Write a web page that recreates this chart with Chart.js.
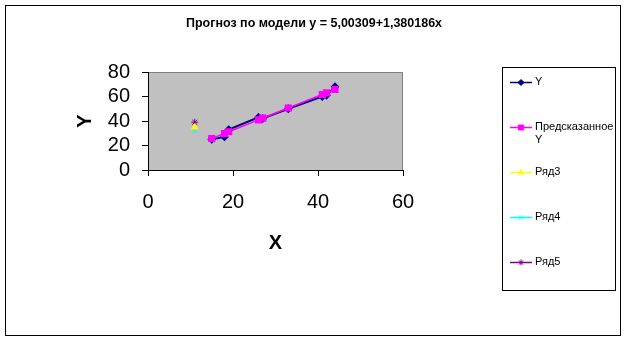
<!DOCTYPE html>
<html>
<head>
<meta charset="utf-8">
<script src="https://cdn.jsdelivr.net/npm/chart.js@4/dist/chart.umd.min.js"></script>
<style>
    html, body { margin: 0; padding: 0; background: #ffffff; }
    #wrap { width: 624px; height: 341px; }
</style>
</head>
<body>
<div id="wrap"><canvas id="forecastChart" width="624" height="341"></canvas></div>
<script>
// data
const xValues = [15, 18, 19, 26, 27, 33, 41, 42, 44];
const yActual = [25, 27, 33, 43, 42, 50, 60, 61, 68];
const yPredicted = [25.7, 29.8, 31.2, 40.9, 42.3, 50.6, 61.6, 63.0, 65.7];
const extraX = 11;
const row3 = [35];
const row4 = [32];
const row5 = [39];
const xTicks = [0, 20, 40, 60];
const yTicks = [0, 20, 40, 60, 80];
const chartTitle = 'Прогноз по модели y = 5,00309+1,380186x';

const FONT = 'Arial, "Liberation Sans", sans-serif';

function toPoints(xs, ys) {
    return ys.map(function (v, i) { return { x: xs[i], y: v }; });
}

// legend entries (label lines, colour, marker)
const legendItems = [
    { lines: ['Y'], color: '#000080', marker: 'rectRot', y: 82 },
    { lines: ['Предсказанное', 'Y'], color: '#FF00FF', marker: 'rect', y: 127 },
    { lines: ['Ряд3'], color: '#FFFF00', marker: 'triangle', y: 172 },
    { lines: ['Ряд4'], color: '#00FFFF', marker: 'crossRot', y: 217 },
    { lines: ['Ряд5'], color: '#800080', marker: 'star', y: 262 }
];

const excelLook = {
    id: 'excelLook',
    beforeDraw: function (chart) {
        const ctx = chart.ctx;
        const a = chart.chartArea;
        ctx.save();
        ctx.fillStyle = '#ffffff';
        ctx.fillRect(0, 0, chart.width, chart.height);
        ctx.fillStyle = '#C0C0C0';
        ctx.fillRect(a.left, a.top, a.right - a.left, a.bottom - a.top);
        ctx.strokeStyle = '#808080';
        ctx.lineWidth = 1;
        ctx.strokeRect(a.left + 0.5, a.top + 0.5, a.right - a.left - 1, a.bottom - a.top);
        ctx.restore();
    },
    afterDraw: function (chart) {
        const ctx = chart.ctx;
        ctx.save();
        // outer frame
        ctx.strokeStyle = '#000000';
        ctx.lineWidth = 1;
        ctx.strokeRect(5.5, 5.5, 615, 330);

        // title
        ctx.fillStyle = '#000000';
        ctx.font = 'bold 12.5px ' + FONT;
        ctx.textAlign = 'center';
        ctx.textBaseline = 'middle';
        ctx.fillText(chartTitle, 314, 24);

        // legend box
        ctx.strokeRect(502.5, 67.5, 113, 223);
        ctx.font = '11px ' + FONT;
        ctx.textAlign = 'left';
        legendItems.forEach(function (item) {
            ctx.strokeStyle = item.color;
            ctx.lineWidth = 1.5;
            ctx.beginPath();
            ctx.moveTo(510, item.y + 0.5);
            ctx.lineTo(532, item.y + 0.5);
            ctx.stroke();
            ctx.lineWidth = 1;
            ctx.fillStyle = item.color;
            Chart.helpers.drawPoint(ctx, {
                pointStyle: item.marker,
                radius: item.marker === 'rect' ? 3.5 : 3,
                rotation: 0,
                borderWidth: 1
            }, 521, item.y + 0.5);
            ctx.fillStyle = '#000000';
            item.lines.forEach(function (line, i) {
                ctx.fillText(line, 535, item.y + i * 13);
            });
        });
        ctx.restore();
    }
};

new Chart(document.getElementById('forecastChart'), {
    type: 'scatter',
    data: {
        datasets: [
            {
                label: 'Y',
                data: toPoints(xValues, yActual),
                showLine: true,
                borderColor: '#000080',
                backgroundColor: '#000080',
                borderWidth: 2,
                pointStyle: 'rectRot',
                pointRadius: 3,
                order: 2
            },
            {
                label: 'Предсказанное Y',
                data: toPoints(xValues, yPredicted),
                showLine: true,
                borderColor: '#FF00FF',
                backgroundColor: '#FF00FF',
                borderWidth: 1.5,
                pointStyle: 'rect',
                pointRadius: 4,
                order: 1
            },
            {
                label: 'Ряд3',
                data: toPoints([extraX], row3),
                borderColor: '#FFFF00',
                backgroundColor: '#FFFF00',
                pointStyle: 'triangle',
                pointRadius: 3.5,
                order: 0
            },
            {
                label: 'Ряд4',
                data: toPoints([extraX], row4),
                borderColor: '#00FFFF',
                backgroundColor: '#00FFFF',
                pointStyle: 'crossRot',
                pointRadius: 3,
                order: 0
            },
            {
                label: 'Ряд5',
                data: toPoints([extraX], row5),
                borderColor: '#800080',
                backgroundColor: '#800080',
                pointStyle: 'star',
                pointRadius: 3.5,
                order: 0
            }
        ]
    },
    options: {
        responsive: false,
        animation: false,
        devicePixelRatio: 1,
        layout: { padding: { left: 0, top: 72, right: 221, bottom: 0 } },
        plugins: {
            legend: { display: false },
            title: { display: false },
            tooltip: { enabled: false }
        },
        scales: {
            x: {
                type: 'linear',
                min: 0,
                max: 60,
                afterBuildTicks: function (scale) {
                    scale.ticks = xTicks.map(function (v) { return { value: v }; });
                },
                afterFit: function (scale) { scale.height = 171; },
                ticks: { color: '#000000', font: { family: FONT, size: 20 }, padding: 14, maxRotation: 0, autoSkip: false },
                grid: { drawOnChartArea: false, drawTicks: true, tickLength: 6, color: '#000000' },
                border: { color: '#000000', width: 1 },
                title: {
                    display: true,
                    text: 'X',
                    color: '#000000',
                    font: { family: FONT, size: 20, weight: 'bold' },
                    padding: { top: 0, bottom: 86 }
                }
            },
            y: {
                type: 'linear',
                min: 0,
                max: 80,
                afterBuildTicks: function (scale) {
                    scale.ticks = yTicks.map(function (v) { return { value: v }; });
                },
                afterFit: function (scale) { scale.width = 148; },
                ticks: { color: '#000000', font: { family: FONT, size: 20 }, padding: 12, autoSkip: false },
                grid: { drawOnChartArea: false, drawTicks: true, tickLength: 6, color: '#000000' },
                border: { color: '#000000', width: 1 },
                title: {
                    display: true,
                    text: 'Y',
                    color: '#000000',
                    font: { family: FONT, size: 20, weight: 'bold' },
                    padding: { top: 73, bottom: 0 }
                }
            }
        }
    },
    plugins: [excelLook]
});
</script>
</body>
</html>
